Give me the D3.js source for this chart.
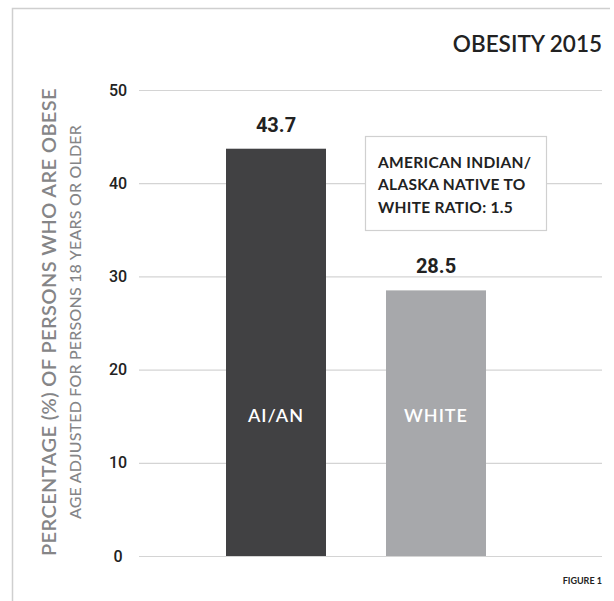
<!DOCTYPE html>
<html>
<head>
<meta charset="utf-8">
<script src="https://cdn.jsdelivr.net/npm/d3@7"></script>
<style>
  body { margin: 0; background: #fff; }
  .geo { font-family: Lato, 'Noto Sans', sans-serif; }
  .num { font-family: Roboto, 'Liberation Sans', Arial, sans-serif; }
</style>
</head>
<body>
<div id="chart"></div>
<script>
const categories = ['AI/AN', 'WHITE'];
const values = [43.7, 28.5];
const barColors = ['#414143', '#a7a8ab'];
const yTicks = [0, 10, 20, 30, 40, 50];
const title = 'OBESITY 2015';
const yTitle = 'PERCENTAGE (%) OF PERSONS WHO ARE OBESE';
const ySubtitle = 'AGE ADJUSTED FOR PERSONS 18 YEARS OR OLDER';
const noteLines = ['AMERICAN INDIAN/', 'ALASKA NATIVE TO', 'WHITE RATIO: 1.5'];
const footer = 'FIGURE 1';

const width = 614, height = 601;
const margin = { top: 90, right: 12, bottom: 45, left: 139 };

const svg = d3.select('#chart').append('svg')
  .attr('width', width)
  .attr('height', height);

// frame (only top and left edges show)
svg.append('path')
  .attr('d', 'M12.5,' + height + 'V8.5H610')
  .attr('fill', 'none')
  .attr('stroke', '#cfcfcf')
  .attr('stroke-width', 1.5);

const innerW = width - margin.left - margin.right;
const innerH = height - margin.top - margin.bottom;
const g = svg.append('g').attr('transform', 'translate(' + margin.left + ',' + margin.top + ')');

const x = d3.scaleBand().domain(categories).range([7, 427]).paddingInner(0.375).paddingOuter(0.5);
const y = d3.scaleLinear().domain([0, 50]).range([innerH, 0]);

/* grid + tick labels */
const yAxis = g.append('g').attr('class', 'y axis')
  .call(d3.axisLeft(y).tickValues(yTicks).tickSize(-innerW).tickPadding(12).tickFormat(d3.format('d')));
yAxis.select('.domain').remove();
yAxis.selectAll('.tick line').attr('stroke', '#d4d4d4').attr('stroke-width', 1.2);
yAxis.selectAll('.tick text')
  .attr('class', 'num')
  .attr('x', -21)
  .attr('text-anchor', 'middle')
  .attr('fill', '#222')
  .style('font-size', '16px')
  .style('font-weight', '500');

/* note box */
const box = g.append('g').attr('transform', 'translate(' + (365 - margin.left) + ',' + (136 - margin.top) + ')');
box.append('rect')
  .attr('x', 0.5).attr('y', 0.5)
  .attr('width', 181).attr('height', 94)
  .attr('fill', '#fff')
  .attr('stroke', '#d0d0d0')
  .attr('stroke-width', 1.2);
box.selectAll('text').data(noteLines).enter().append('text')
  .attr('class', 'geo')
  .attr('x', 13)
  .attr('y', (d, i) => 32 + i * 22.3)
  .attr('fill', '#222')
  .style('font-size', '15.5px')
  .style('font-weight', '700')
  .style('letter-spacing', '0.3px')
  .text(d => d);

/* bars */
g.selectAll('.bar').data(values).enter().append('rect')
  .attr('class', 'bar')
  .attr('x', (d, i) => x(categories[i]))
  .attr('y', d => y(d))
  .attr('width', x.bandwidth())
  .attr('height', d => innerH - y(d))
  .attr('fill', (d, i) => barColors[i]);

/* value labels */
g.selectAll('.val').data(values).enter().append('text')
  .attr('class', 'num')
  .attr('text-anchor', 'middle')
  .attr('x', (d, i) => x(categories[i]) + x.bandwidth() / 2)
  .attr('y', d => y(d) - 17)
  .attr('fill', '#222')
  .style('font-size', '20px')
  .style('font-weight', '700')
  .text(d => d.toFixed(1));

/* category labels inside bars */
g.selectAll('.cat').data(categories).enter().append('text')
  .attr('class', 'geo')
  .attr('text-anchor', 'middle')
  .attr('x', d => x(d) + x.bandwidth() / 2)
  .attr('y', y(14.4))
  .attr('fill', '#fff')
  .style('font-size', '18px')
  .style('font-weight', '600')
  .style('letter-spacing', '1px')
  .text(d => d);

/* axis titles */
const midY = margin.top + innerH / 2 - 1;
svg.append('text')
  .attr('class', 'geo')
  .attr('transform', 'translate(56,' + midY + ') rotate(-90)')
  .attr('text-anchor', 'middle')
  .attr('fill', '#858587')
  .style('font-size', '20px')
  .style('font-weight', '600')
  .style('letter-spacing', '0.4px')
  .text(yTitle);
svg.append('text')
  .attr('class', 'geo')
  .attr('transform', 'translate(81,' + midY + ') rotate(-90)')
  .attr('text-anchor', 'middle')
  .attr('fill', '#858587')
  .style('font-size', '16px')
  .style('font-weight', '500')
  .style('letter-spacing', '0.2px')
  .text(ySubtitle);

/* title + footer */
svg.append('text')
  .attr('class', 'geo')
  .attr('x', 602).attr('y', 52)
  .attr('text-anchor', 'end')
  .attr('fill', '#222')
  .style('font-size', '22.5px')
  .style('font-weight', '600')
  .text(title);
svg.append('text')
  .attr('class', 'geo')
  .attr('x', 602).attr('y', 584)
  .attr('text-anchor', 'end')
  .attr('fill', '#222')
  .style('font-size', '9px')
  .style('font-weight', '700')
  .text(footer);
</script>
</body>
</html>
